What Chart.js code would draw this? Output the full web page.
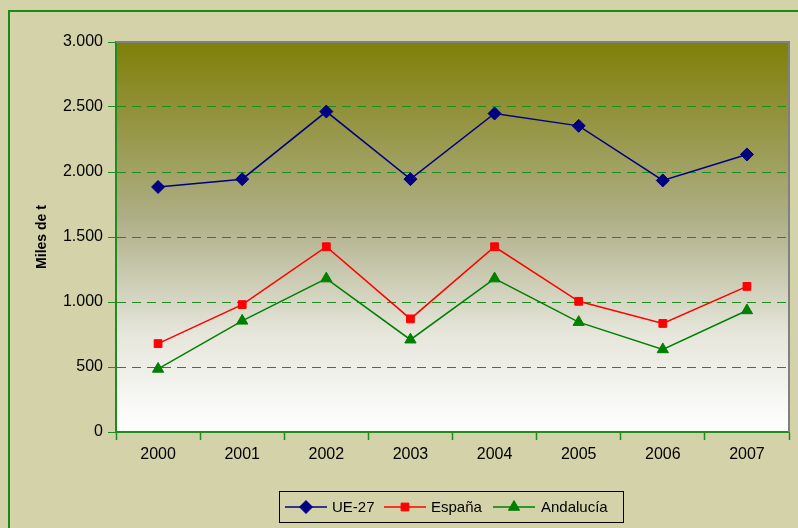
<!DOCTYPE html>
<html>
<head>
<meta charset="utf-8">
<script src="https://cdn.jsdelivr.net/npm/chart.js@4.4.0/dist/chart.umd.min.js"></script>
<style>
  html, body { margin: 0; padding: 0; background: #d4d2a8; overflow: hidden; }
  #frame { position: absolute; left: 0; top: 0; width: 798px; height: 528px; }
  #border { position: absolute; left: 8px; top: 10px; width: 820px; height: 560px; border: 2px solid #1a8a1a; box-sizing: border-box; }
</style>
</head>
<body>
<div id="frame">
  <div id="border"></div>
  <canvas id="chart" width="798" height="528"></canvas>
</div>
<script>
// Data
const years = ['2000', '2001', '2002', '2003', '2004', '2005', '2006', '2007'];
const ue27 = [1885, 1945, 2465, 1945, 2450, 2355, 1935, 2135];
const espana = [680, 980, 1425, 870, 1425, 1005, 835, 1120];
const andalucia = [485, 855, 1180, 710, 1180, 845, 635, 935];
const yTicks = [0, 500, 1000, 1500, 2000, 2500, 3000];

const GRID = '#1f8c1f';
const FONT = 'Liberation Sans, Arial, sans-serif';

const fmt = v => v.toLocaleString('de-DE');

const plotBackground = {
  id: 'plotBackground',
  beforeDraw(chart) {
    const { ctx, chartArea: a } = chart;
    const g = ctx.createLinearGradient(0, a.top, 0, a.bottom);
    g.addColorStop(0, '#7f7f08');
    g.addColorStop(0.45, '#aeae86');
    g.addColorStop(0.75, '#e6e6dc');
    g.addColorStop(1, '#ffffff');
    ctx.save();
    ctx.fillStyle = g;
    ctx.fillRect(a.left, a.top, a.right - a.left, a.bottom - a.top);
    ctx.restore();
  },
  afterDatasetsDraw(chart) {
    // grey top/right frame of plot area
    const { ctx, chartArea: a } = chart;
    ctx.save();
    ctx.strokeStyle = '#808080';
    ctx.lineWidth = 2;
    ctx.beginPath();
    ctx.moveTo(a.left, a.top);
    ctx.lineTo(a.right, a.top);
    ctx.lineTo(a.right, a.bottom);
    ctx.stroke();
    ctx.restore();
  }
};

// legend box drawn like the spreadsheet one: line + marker + label
const boxLegend = {
  id: 'boxLegend',
  afterDraw(chart) {
    const { ctx } = chart;
    const box = { x: 279, y: 491, w: 344, h: 31 };
    const items = [
      { x: 285, tx: 332 },
      { x: 384, tx: 431 },
      { x: 493, tx: 541 }
    ];
    ctx.save();
    ctx.strokeStyle = '#000000';
    ctx.lineWidth = 1;
    ctx.strokeRect(box.x + 0.5, box.y + 0.5, box.w, box.h);
    const cy = box.y + box.h / 2 + 0.5;
    chart.data.datasets.forEach((ds, i) => {
      const it = items[i];
      ctx.strokeStyle = ds.borderColor;
      ctx.lineWidth = 1.5;
      ctx.beginPath();
      ctx.moveTo(it.x, cy);
      ctx.lineTo(it.x + 42, cy);
      ctx.stroke();
      ctx.fillStyle = ds.pointBackgroundColor;
      ctx.strokeStyle = ds.pointBorderColor;
      ctx.lineWidth = 1;
      Chart.helpers.drawPoint(ctx, { pointStyle: ds.pointStyle, radius: ds.pointRadius, borderWidth: 1 }, it.x + 21, cy);
      ctx.fillStyle = '#000000';
      ctx.font = '15px ' + FONT;
      ctx.textBaseline = 'middle';
      ctx.textAlign = 'left';
      ctx.fillText(ds.label, it.tx, cy + 1);
    });
    ctx.restore();
  }
};

function series(label, data, color, style, radius) {
  return {
    label, data,
    borderColor: color,
    backgroundColor: color,
    pointBackgroundColor: color,
    pointBorderColor: color,
    borderWidth: 1.5,
    pointStyle: style,
    pointRadius: radius,
    pointBorderWidth: 1,
    tension: 0
  };
}

new Chart(document.getElementById('chart'), {
  type: 'line',
  data: {
    labels: years,
    datasets: [
      series('UE-27', ue27, '#000080', 'rectRot', 6.5),
      series('España', espana, '#ff0000', 'rect', 5.5),
      series('Andalucía', andalucia, '#008000', 'triangle', 6.5)
    ]
  },
  options: {
    responsive: false,
    animation: false,
    layout: { padding: { top: 42, right: 9, left: 0, bottom: 0 } },
    plugins: { legend: { display: false }, tooltip: { enabled: false } },
    scales: {
      x: {
        offset: true,
        afterFit(s) { s.height = 96; },
        grid: {
          offset: true,
          drawOnChartArea: false,
          tickLength: 8,
          tickColor: GRID,
          tickWidth: 1.5
        },
        border: { color: GRID, width: 2 },
        ticks: { color: '#000000', padding: 5, font: { family: FONT, size: 16 } }
      },
      y: {
        min: 0,
        max: 3000,
        afterFit(s) { s.width = 116; },
        afterBuildTicks(s) { s.ticks = yTicks.map(v => ({ value: v })); },
        grid: {
          color: c => (c.tick && (c.tick.value === 0 || c.tick.value === 3000)) ? 'rgba(0,0,0,0)' : GRID,
          lineWidth: 1,
          tickColor: GRID,
          tickBorderDash: [],
          tickLength: 8
        },
        border: { color: GRID, width: 2, dash: [9, 6] },
        ticks: {
          color: '#000000',
          padding: 5,
          font: { family: FONT, size: 16 },
          callback: v => fmt(v)
        },
        title: {
          display: true,
          text: 'Miles de t',
          color: '#000000',
          font: { family: FONT, size: 14, weight: 'bold' },
          padding: { top: 34, bottom: 0 }
        }
      }
    }
  },
  plugins: [plotBackground, boxLegend]
});
</script>
</body>
</html>
